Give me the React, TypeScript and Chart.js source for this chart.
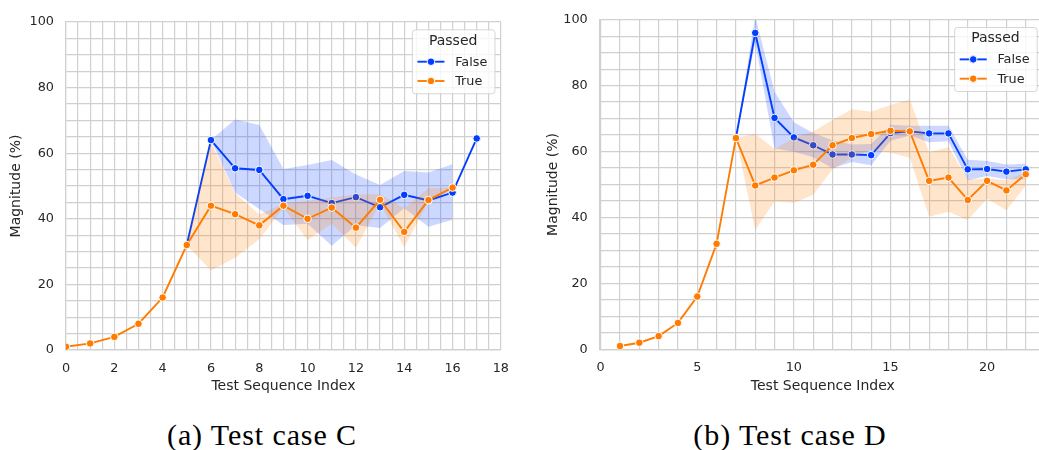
import React, { useEffect, useRef } from 'react';
import { Chart, registerables } from 'chart.js';

Chart.register(...registerables);

const FONT = "'DejaVu Sans', sans-serif";
const TXT = '#262626';
const GRID = '#d0d0d0';
const BLUE = '#023eff';
const ORANGE = '#ff7c00';
const BLUE_BAND = 'rgba(2, 62, 255, 0.2)';
const ORANGE_BAND = 'rgba(255, 124, 0, 0.2)';

const hueTitle = 'Passed';
const hueLabels = ['False', 'True'];
const yTitle = 'Magnitude (%)';
const xTitle = 'Test Sequence Index';
const yTickLabels = [0, 20, 40, 60, 80, 100];

// ---- (a) Test case C ----
const cCaption = '(a) Test case C';
const cXTickLabels = [0, 2, 4, 6, 8, 10, 12, 14, 16, 18];
const cTrueX = [0, 1, 2, 3, 4, 5, 6, 7, 8, 9, 10, 11, 12, 13, 14, 15, 16];
const cTrueY = [1, 2, 4, 8, 16, 32, 44, 41.4, 38, 44, 40, 43.4, 37.3, 45.8, 36, 45.7, 49.5];
const cTrueLow = [1, 2, 4, 8, 16, 32, 24.2, 28.1, 33.8, 43.4, 33.5, 38.5, 31.2, 44.6, 31.3, 45.2, 49.5];
const cTrueHigh = [1, 2, 4, 8, 16, 32, 63.5, 47.8, 41.3, 44.6, 45.5, 46.5, 47.4, 47.5, 43.2, 49.3, 49.5];
const cFalseX = [5, 6, 7, 8, 9, 10, 11, 12, 13, 14, 15, 16, 17];
const cFalseY = [32, 64, 55.4, 54.9, 46, 47, 44.8, 46.6, 43.5, 47.3, 45.6, 48, 64.5];
const cFalseLow = [null, 64, 48, 43, 38.1, 38.5, 31.8, 38, 37.2, 43.2, 37.6, 39.7, null];
const cFalseHigh = [null, 64, 70.3, 68.6, 55.2, 56.4, 57.9, 53.5, 50.3, 54.6, 54.1, 56.6, null];

// ---- (b) Test case D ----
const dCaption = '(b) Test case D';
const dXTickLabels = [0, 5, 10, 15, 20];
const dTrueX = [1, 2, 3, 4, 5, 6, 7, 8, 9, 10, 11, 12, 13, 14, 15, 16, 17, 18, 19, 20, 21, 22];
const dTrueY = [1, 2, 4, 8, 16, 32, 64.1, 49.7, 52.1, 54.3, 56, 61.9, 64.1, 65.3, 66.3, 66.1, 51.1, 52.1, 45.3, 51.1, 48.2, 53.1];
const dTrueLow = [1, 2, 4, 8, 16, 32, 64.1, 36.2, 44.9, 44.4, 46.9, 54.6, 58.1, 60.6, 59.6, 58.1, 40.2, 41.7, 39.2, 45.7, 42.2, 49.6];
const dTrueHigh = [1, 2, 4, 8, 16, 32, 64.1, 65.4, 60.8, 64.1, 66.1, 69.6, 72.8, 72.1, 74.1, 75.8, 59.8, 61.4, 51.6, 51.8, 51.4, 53.6];
const dFalseX = [7, 8, 9, 10, 11, 12, 13, 14, 15, 16, 17, 18, 19, 20, 21, 22];
const dFalseY = [64.1, 96, 70.2, 64.3, 61.9, 59.1, 59.1, 58.9, 65.6, 66.1, 65.5, 65.5, 54.6, 54.7, 53.9, 54.6];
const dFalseLow = [64.1, 93, 60.9, 59.9, 58.3, 54.9, 56.8, 55.8, 63.3, 64.9, 62.8, 63.1, 51.3, 52.6, 51.6, 51.6];
const dFalseHigh = [64.1, 101, 78.1, 68.9, 65.6, 63.4, 62.1, 62.3, 68.1, 67.8, 67.8, 67.8, 57.5, 57.1, 56.1, 56.3];

const pts = (xs: number[], ys: (number | null)[]) => xs.map((x, i) => ({ x, y: ys[i] }));

const MARKER_R = 3.8;

const hueLegendPlugin = {
  id: 'hueLegend',
  afterDraw(chart: any, _args: any, opts: any) {
    const { ctx, chartArea } = chart;
    const w = 82.6;
    const h = 64;
    const x0 = chartArea.right - opts.marginRight - w;
    const y0 = chartArea.top + opts.marginTop;
    ctx.save();
    ctx.beginPath();
    ctx.roundRect(x0 + 0.5, y0 + 0.5, w, h, 3);
    ctx.fillStyle = 'rgba(255,255,255,0.8)';
    ctx.fill();
    ctx.strokeStyle = 'rgba(204,204,204,0.8)';
    ctx.lineWidth = 1;
    ctx.stroke();
    ctx.fillStyle = TXT;
    ctx.textBaseline = 'middle';
    ctx.textAlign = 'center';
    ctx.font = `14px ${FONT}`;
    ctx.fillText(opts.title, x0 + w / 2, y0 + 11.6);
    ctx.font = `12.8px ${FONT}`;
    ctx.textAlign = 'left';
    opts.items.forEach((it: any, i: number) => {
      const y = y0 + 32.4 + i * 19.3;
      ctx.strokeStyle = it.color;
      ctx.lineWidth = 1.9;
      ctx.beginPath();
      ctx.moveTo(x0 + 5.6, y);
      ctx.lineTo(x0 + 32.6, y);
      ctx.stroke();
      ctx.beginPath();
      ctx.arc(x0 + 19.1, y, MARKER_R, 0, Math.PI * 2);
      ctx.fillStyle = it.color;
      ctx.fill();
      ctx.strokeStyle = '#ffffff';
      ctx.lineWidth = 1;
      ctx.stroke();
      ctx.fillStyle = TXT;
      ctx.fillText(it.label, x0 + 43.3, y + 0.5);
    });
    ctx.restore();
  },
};

function lineDs(label: string, color: string, xs: number[], ys: number[]) {
  return {
    label,
    data: pts(xs, ys),
    borderColor: color,
    backgroundColor: color,
    borderWidth: 1.9,
    pointRadius: MARKER_R,
    pointHoverRadius: MARKER_R,
    pointBackgroundColor: color,
    pointBorderColor: '#ffffff',
    pointBorderWidth: 1,
    fill: false,
    tension: 0,
  };
}

function bandDs(label: string, xs: number[], ys: (number | null)[], fill: any, bg: string) {
  return {
    label,
    data: pts(xs, ys),
    borderColor: 'transparent',
    borderWidth: 0,
    pointRadius: 0,
    pointHoverRadius: 0,
    backgroundColor: bg,
    fill,
    tension: 0,
    spanGaps: false,
  };
}

interface PanelSpec {
  trueX: number[]; trueY: number[]; trueLow: number[]; trueHigh: number[];
  falseX: number[]; falseY: number[]; falseLow: (number | null)[]; falseHigh: (number | null)[];
  xMin: number; xMax: number; xStep: number; xLabels: number[];
  yAxisWidth: number; xAxisHeight: number; padTop: number; padRight: number;
  yTitlePad: number; legendRight: number;
}

function makeConfig(s: PanelSpec): any {
  const tickFont = { family: FONT, size: 12.8 };
  const titleFont = { family: FONT, size: 14 };
  return {
    type: 'line',
    data: {
      datasets: [
        lineDs(hueLabels[1], ORANGE, s.trueX, s.trueY),
        bandDs('True high', s.trueX, s.trueHigh, '+1', ORANGE_BAND),
        bandDs('True low', s.trueX, s.trueLow, false, ORANGE_BAND),
        lineDs(hueLabels[0], BLUE, s.falseX, s.falseY),
        bandDs('False high', s.falseX, s.falseHigh, '+1', BLUE_BAND),
        bandDs('False low', s.falseX, s.falseLow, false, BLUE_BAND),
      ],
    },
    options: {
      responsive: false,
      animation: false,
      events: [],
      layout: { padding: { top: s.padTop, right: s.padRight, left: 0, bottom: 0 } },
      plugins: {
        legend: { display: false },
        tooltip: { enabled: false },
        hueLegend: {
          title: hueTitle,
          marginRight: s.legendRight,
          marginTop: 7.3,
          items: [
            { label: hueLabels[0], color: BLUE },
            { label: hueLabels[1], color: ORANGE },
          ],
        },
      },
      scales: {
        x: {
          type: 'linear',
          min: s.xMin,
          max: s.xMax,
          afterFit: (sc: any) => { sc.height = s.xAxisHeight; },
          grid: { color: GRID, lineWidth: 1.2, drawTicks: false },
          border: { display: true, color: GRID, width: 1.2 },
          ticks: {
            stepSize: s.xStep,
            autoSkip: false,
            includeBounds: false,
            maxRotation: 0,
            minRotation: 0,
            padding: 11,
            color: TXT,
            font: tickFont,
            callback: (v: number) => (s.xLabels.some((l) => Math.abs(l - v) < 1e-6) ? String(v) : ''),
          },
          title: {
            display: true,
            text: xTitle,
            color: TXT,
            font: titleFont,
            padding: { top: 0, bottom: 5.6 },
          },
        },
        y: {
          type: 'linear',
          min: 0,
          max: 100,
          afterFit: (sc: any) => { sc.width = s.yAxisWidth; },
          grid: { color: GRID, lineWidth: 1.2, drawTicks: false },
          border: { display: true, color: GRID, width: 1.2 },
          ticks: {
            stepSize: 5,
            autoSkip: false,
            includeBounds: false,
            padding: 12,
            color: TXT,
            font: tickFont,
            callback: (v: number) => (yTickLabels.includes(v) ? String(v) : ''),
          },
          title: {
            display: true,
            text: yTitle,
            color: TXT,
            font: titleFont,
            padding: { top: s.yTitlePad, bottom: 0 },
          },
        },
      },
    },
    plugins: [hueLegendPlugin],
  };
}

const specC: PanelSpec = {
  trueX: cTrueX, trueY: cTrueY, trueLow: cTrueLow, trueHigh: cTrueHigh,
  falseX: cFalseX, falseY: cFalseY, falseLow: cFalseLow, falseHigh: cFalseHigh,
  xMin: 0, xMax: 18, xStep: 0.5, xLabels: cXTickLabels,
  yAxisWidth: 66, xAxisHeight: 50, padTop: 22, padRight: 14,
  yTitlePad: 7.6, legendRight: 6.4,
};

const specD: PanelSpec = {
  trueX: dTrueX, trueY: dTrueY, trueLow: dTrueLow, trueHigh: dTrueHigh,
  falseX: dFalseX, falseY: dFalseY, falseLow: dFalseLow, falseHigh: dFalseHigh,
  xMin: -0.05, xMax: 23.05, xStep: 1, xLabels: dXTickLabels,
  yAxisWidth: 69.7, xAxisHeight: 50.7, padTop: 15, padRight: 14,
  yTitlePad: 14.6, legendRight: 9.3,
};

const captionStyle: React.CSSProperties = {
  position: 'absolute',
  width: 300,
  textAlign: 'center',
  fontFamily: "'Liberation Serif', 'Times New Roman', serif",
  fontSize: 30,
  lineHeight: '30px',
  letterSpacing: '0.9px',
  color: '#000',
  whiteSpace: 'nowrap',
};

export default function App() {
  const refC = useRef<HTMLCanvasElement | null>(null);
  const refD = useRef<HTMLCanvasElement | null>(null);

  useEffect(() => {
    const charts: Chart[] = [];
    if (refC.current) charts.push(new Chart(refC.current, makeConfig(specC)));
    if (refD.current) charts.push(new Chart(refD.current, makeConfig(specD)));
    return () => charts.forEach((c) => c.destroy());
  }, []);

  return (
    <div
      style={{
        position: 'absolute',
        left: 0,
        top: 0,
        width: 1039,
        height: 450,
        overflow: 'hidden',
        background: '#ffffff',
      }}
    >
      <canvas
        ref={refC}
        width={520}
        height={400}
        style={{ position: 'absolute', left: 0, top: 0, width: 520, height: 400 }}
      />
      <canvas
        ref={refD}
        width={530}
        height={400}
        style={{ position: 'absolute', left: 530, top: 0, width: 530, height: 400 }}
      />
      <div style={{ ...captionStyle, left: 262 - 150, top: 420 }}>{cCaption}</div>
      <div style={{ ...captionStyle, left: 790 - 150, top: 420 }}>{dCaption}</div>
    </div>
  );
}
